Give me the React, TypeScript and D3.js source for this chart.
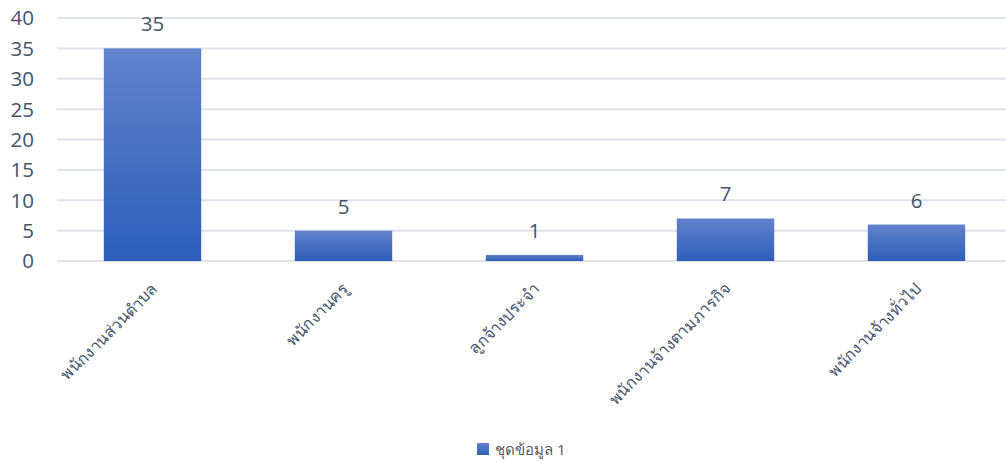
import React from "react";
import * as d3 from "d3";

const categories = [
  "พนักงานส่วนตำบล",
  "พนักงานครู",
  "ลูกจ้างประจำ",
  "พนักงานจ้างตามภารกิจ",
  "พนักงานจ้างทั่วไป",
];
const values = [35, 5, 1, 7, 6];
const yTicks = [0, 5, 10, 15, 20, 25, 30, 35, 40];
const seriesName = "ชุดข้อมูล 1";

const W = 1006;
const H = 463;
const FONT = "'Open Sans', 'Noto Sans', 'DejaVu Sans', sans-serif";

export default function App() {
  const x = d3.scaleBand<string>().domain(categories).range([57, 1012]).paddingInner(0.49).paddingOuter(0.245);
  const y = d3.scaleLinear().domain([0, 40]).range([261, 18]);
  const textColor = "#44546A";

  return (
    <svg width={W} height={H} style={{ position: "absolute", left: 0, top: 0, background: "#fff" }}>
      <defs>
        <linearGradient id="barGrad" x1="0" y1="0" x2="0" y2="1">
          <stop offset="0" stopColor="#6283CC" />
          <stop offset="1" stopColor="#2D5DB9" />
        </linearGradient>
      </defs>
      {yTicks.map((t) => (
        <g key={t}>
          <line x1={57} x2={W} y1={y(t)} y2={y(t)} stroke="#DFE2E8" strokeWidth={2} />
          <text x={34} y={y(t)} dy="0.36em" textAnchor="end" fontFamily={FONT} fontSize={20.5} fill={textColor}>
            {t}
          </text>
        </g>
      ))}
      {categories.map((c, i) => {
        const bx = x(c)!;
        const bw = x.bandwidth();
        const cx = bx + bw / 2;
        return (
          <g key={c}>
            <rect x={bx} y={y(values[i])} width={bw} height={y(0) - y(values[i])} fill="url(#barGrad)" />
            <text x={cx} y={y(values[i]) - 17} textAnchor="middle" fontFamily={FONT} fontSize={20.5} fill={textColor}>
              {values[i]}
            </text>
            <text
              transform={`translate(${cx + 6},${290}) rotate(-45)`}
              textAnchor="end"
              fontFamily={FONT}
              fontSize={16}
              fill={textColor}
            >
              {c}
            </text>
          </g>
        );
      })}
      <rect x={477} y={443} width={12} height={12} fill="url(#barGrad)" />
      <text x={495} y={455} fontFamily={FONT} fontSize={15} fill="#595959">
        {seriesName}
      </text>
    </svg>
  );
}
